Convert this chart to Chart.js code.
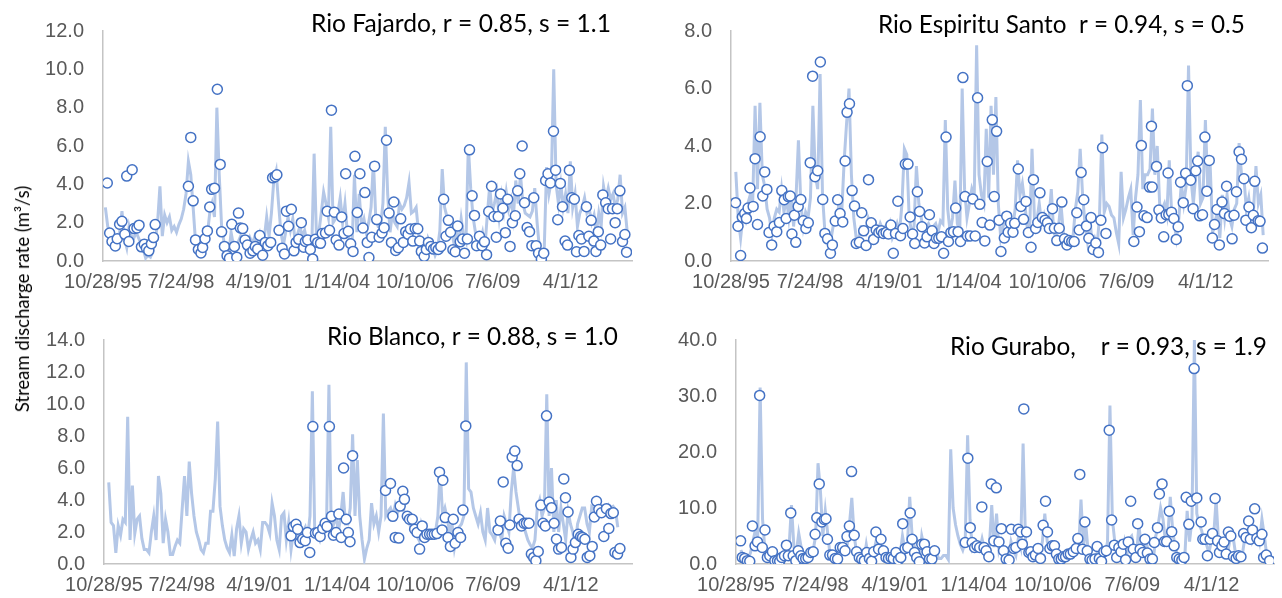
<!DOCTYPE html>
<html>
<head>
<meta charset="utf-8">
<title>Stream discharge</title>
<script src="https://cdn.jsdelivr.net/npm/chart.js@4.4.1/dist/chart.umd.min.js"></script>
<style>
  html, body { margin: 0; padding: 0; background: #fff; }
  #wrap { position: relative; width: 1282px; height: 598px; overflow: hidden; }
  canvas { position: absolute; }
  #yTitle {
    position: absolute; left: 22px; top: 299px;
    transform: translate(-50%, -50%) rotate(-90deg);
    white-space: nowrap; font: 18.5px Lato, sans-serif; color: #000;
  }
</style>
</head>
<body>
<div id="wrap">
  <canvas id="c1" width="641" height="300" style="left:0;top:0"></canvas>
  <canvas id="c2" width="641" height="300" style="left:641px;top:0"></canvas>
  <canvas id="c3" width="641" height="298" style="left:0;top:300px"></canvas>
  <canvas id="c4" width="641" height="298" style="left:641px;top:300px"></canvas>
  <div id="yTitle">Stream discharge rate (m³/s)</div>
</div>
<script>
// x axis: months since 10/28/95, labelled every 1000 days like the Excel date axis
const tickDays = [0, 1000, 2000, 3000, 4000, 5000, 6000];
const tickLabels = ['10/28/95', '7/24/98', '4/19/01', '1/14/04', '10/10/06', '7/6/09', '4/1/12'];
const DAYS_PER_MONTH = 30.4375;
const monthSpan = 223;

// monthly modelled discharge (line), index = month
const fajardoModel = [null,2.8,1.8,1.5,1.3,1.1,1.2,1.5,2.6,1.2,
  0.7,1.8,1.3,1.2,1.5,1.2,0.9,0.6,0.15,0.3,
  0.2,0.5,1.0,2.0,3.9,1.3,2.4,2.0,2.3,1.6,
  1.8,1.5,1.9,2.2,2.7,3.5,5.2,4.5,2.8,1.0,
  0.4,0.5,0.4,1.0,1.4,2.5,3.0,2.3,8.0,4.5,
  1.8,1.0,0.5,0.3,1.5,0.8,0.4,1.0,1.3,1.0,
  0.9,0.6,1.2,0.9,1.3,1.0,1.4,0.6,1.2,2.3,
  1.3,2.5,4.2,4.7,3.0,1.5,0.8,1.5,2.3,1.6,
  2.2,1.0,1.4,1.8,1.3,1.6,1.0,1.2,0.7,5.6,
  1.2,1.5,2.5,3.6,3.0,2.3,7.0,2.0,2.2,2.5,
  3.3,2.0,3.0,1.5,1.0,0.8,4.5,1.5,3.5,1.8,
  2.2,1.5,2.0,2.8,5.2,2.2,1.8,1.8,3.0,7.0,
  3.5,1.5,2.5,2.0,1.8,3.0,2.7,2.9,3.3,4.1,
  2.5,2.6,2.8,1.5,0.8,0.7,0.6,1.2,0.9,0.7,
  0.3,0.6,1.6,4.8,2.8,2.3,2.0,1.5,0.9,1.5,
  1.0,2.2,1.3,1.0,6.0,3.8,2.3,1.5,1.2,1.0,
  1.5,0.7,2.4,3.9,2.5,3.0,3.6,2.3,3.4,2.6,
  3.6,2.7,3.2,2.3,4.2,3.0,4.5,3.0,2.5,2.4,
  2.3,2.6,3.8,2.0,0.6,0.2,0.6,4.9,3.5,4.2,
  10.0,4.0,3.0,4.0,2.8,3.5,2.5,5.2,2.8,3.5,
  1.8,2.5,2.8,3.3,2.5,2.7,2.0,2.4,1.5,2.5,
  1.8,3.9,3.2,3.8,3.2,3.5,2.8,3.2,4.5,2.5,
  2.8,1.5];

// sampled discharge (circles): [month, value]
const fajardoObs = [[1.8,4.07],[2.8,1.46],[3.8,1.02],[5.2,0.78],[6,1.16],[7,1.92],[8,2.07],[9.2,1.39],[10,4.43],[10.9,1.02],
  [12.3,4.76],[13.1,1.69],[14.3,1.72],[15.2,1.87],[16.2,0.74],[17.4,0.88],[18.3,0.67],[19.3,0.53],[20.4,0.9],[21.3,1.22],[22,1.9],
  [36,3.9],[37,6.45],[38,3.14],[39,1.1],[40.2,0.6],[41.3,0.42],[42,0.71],[43,1.16],[44,1.57],[45,2.82],[45.8,3.74],[47,3.8],
  [48.2,8.96],[49.4,5.04],[50,1.52],[51.2,0.76],[52.3,0.28],[53.3,0.14],[54.3,1.92],[55.4,0.76],[56.4,0.2],[57.1,2.5],[57.9,1.72],
  [58.9,1.69],[59.9,1.1],[60.9,0.83],[62,0.41],[63.2,0.53],[64.2,0.76],[65.2,0.62],[66.1,1.33],[67.3,0.3],[68.4,0.97],[69.5,0.8],
  [70.7,0.97],[71.5,4.34],[72.6,4.4],[73.3,4.5],[74.2,1.6],[75.5,0.67],[76.5,0.37],[77.3,2.6],[78.2,1.81],[79.4,2.7],[80.5,0.53],
  [81.4,0.97],[82.5,1.13],[83.6,2.0],[84.6,0.72],[85.3,1.02],[86.3,1.1],[87.4,0.6],[88.4,0.11],[89.5,1.13],[90.5,0.97],[91.7,0.92],
  [92.4,1.43],[93.8,1.46],[94.5,2.6],[95.5,1.6],[96.3,7.87],[97.5,2.55],[98.3,1.1],[99.5,0.83],[100.6,2.3],[101.6,1.43],[102.3,4.55],
  [103.4,1.55],[104.4,0.9],[105.4,0.5],[106.2,5.46],[107.2,2.53],[108.3,4.55],[109.6,1.72],[110.4,3.57],[111.4,0.97],[112.1,0.18],
  [113.3,1.24],[114.5,4.95],[115.4,2.16],[116.4,1.24],[117.6,1.46],[118.5,1.74],[119.5,6.3],[120.6,2.5],[121.6,0.97],[122.6,3.08],
  [123.4,0.55],[124.5,0.69],[125.5,2.2],[126.6,0.97],[127.6,1.53],[128.6,1.4],[129.6,1.67],[130.6,1.04],[131.6,1.7],[132.7,1.68],
  [133.5,1.04],[134.2,0.5],[135.4,0.25],[136.3,0.6],[137.2,0.97],[138.2,0.76],[139.3,0.62],[140.3,0.7],[141.3,0.6],[142.4,0.76],
  [143.6,3.22],[144.6,1.29],[145.6,2.12],[146.5,1.5],[147.5,0.59],[148.5,0.48],[149.5,1.82],[150.6,1.0],[151.6,1.15],[152.4,0.41],
  [153.6,1.15],[154.5,5.8],[155.6,3.4],[156.6,2.38],[157.5,0.8],[158.7,1.29],[159.8,0.8],[160.8,1.0],[161.7,0.33],[162.6,2.58],
  [163.8,3.9],[164.8,2.32],[165.8,1.24],[166.6,2.32],[167.6,3.5],[168.6,2.75],[169.6,1.48],[170.6,3.22],[171.6,0.76],[172.6,2.0],
  [173.8,2.36],[174.8,3.66],[175.7,4.55],[176.7,6.0],[177.7,3.04],[178.8,1.75],[179.8,1.53],[180.8,0.8],[181.6,3.3],[182.6,0.8],
  [183.6,0.41],[184.8,0.1],[185.8,0.41],[186.6,4.2],[187.6,4.55],[188.6,4.07],[189.9,6.77],[190.8,4.74],[191.7,2.15],[192.8,4.05],
  [193.7,2.83],[194.8,1.04],[195.8,0.83],[196.6,4.74],[197.6,3.3],[198.7,3.22],[199.6,0.48],[200.6,1.33],[201.7,1.15],[202.8,0.5],
  [203.8,2.83],[204.8,1.29],[205.8,2.12],[206.9,1.04],[207.8,0.5],[208.8,1.53],[209.8,0.83],[210.7,3.45],[211.9,3.04],[213,2.73],
  [214,1.15],[214.8,2.73],[215.9,2.0],[216.8,2.73],[217.9,3.66],[219,1.02],[220,1.38],[220.7,0.46]];

const espirituModel = [null,null,3.1,1.5,0.8,1.6,1.4,2.0,2.3,2.0,
  5.4,2.5,5.5,3.0,2.6,1.8,1.5,0.9,1.5,1.8,
  1.7,2.5,1.7,2.2,1.5,2.3,1.2,2.2,4.2,2.0,
  1.2,1.7,1.5,2.2,5.4,3.0,2.5,6.5,2.3,1.0,
  0.7,0.5,1.0,1.5,1.5,2.1,1.7,3.5,4.8,6.0,
  3.0,1.5,0.8,0.8,1.2,1.2,1.0,1.5,1.3,1.1,
  1.3,1.0,1.3,1.1,1.2,1.0,1.3,0.8,1.0,1.3,
  1.0,2.0,3.9,3.7,1.5,1.0,1.2,3.3,2.0,1.5,
  1.0,1.2,1.3,1.1,1.2,1.3,1.0,1.4,1.3,4.9,
  1.8,1.0,1.5,2.8,1.3,1.0,6.0,2.5,1.5,2.0,
  2.5,2.2,7.5,3.0,2.3,2.0,4.6,2.2,5.4,3.0,
  5.7,2.0,0.8,1.2,1.5,1.3,1.5,1.2,1.8,3.5,
  2.3,2.7,2.0,1.2,1.0,3.9,1.5,1.4,2.0,1.3,
  1.6,1.2,1.4,2.5,1.0,0.8,1.2,2.0,1.0,0.7,
  0.8,0.7,0.8,1.8,2.4,3.9,2.3,1.3,0.7,1.5,
  0.6,0.8,0.5,1.5,4.4,1.7,2.0,1.9,1.6,1.5,
  1.0,0.6,3.1,1.5,1.8,2.2,2.5,0.9,2.2,3.0,
  5.6,2.5,3.0,3.0,3.2,5.3,3.0,4.0,2.0,1.8,
  2.0,1.6,3.5,1.6,1.3,0.8,1.5,2.7,2.0,2.6,
  6.8,2.9,2.0,3.0,3.8,2.0,2.2,4.9,2.5,3.3,
  1.0,1.3,1.8,0.8,2.3,1.5,2.3,1.5,1.2,1.8,
  2.0,4.1,3.0,2.9,1.8,2.2,1.5,1.8,3.3,2.0,
  2.3,0.9];

const espirituObs = [[1.9,2.03],[2.9,1.21],[4,0.19],[4.7,1.53],[5.7,1.65],[6.4,1.48],[7.1,1.84],[7.9,2.54],[9.2,1.9],[10,3.56],
  [11,1.27],[12.1,4.32],[13.2,2.26],[14,3.1],[14.9,2.49],[15.8,0.99],[16.9,0.56],[17.9,1.21],[19,1.02],[20.1,1.34],[21.1,2.45],
  [22.1,2.13],[22.9,1.48],[23.8,2.24],[24.6,2.26],[25.3,0.94],[26.3,1.59],[26.9,0.65],[27.9,1.9],[29,2.14],[30,1.4],[31.1,1.13],
  [32.1,1.33],[32.9,3.42],[33.9,6.43],[34.9,2.93],[36,3.14],[37.1,6.92],[38.1,2.14],[39,0.96],[40.1,0.77],[41.3,0.27],[42.1,0.56],
  [43.3,1.39],[44.3,2.13],[45.3,1.65],[46.4,1.36],[47.4,3.48],[48.2,5.17],[49.2,5.47],[50.3,2.45],[51.3,1.91],[52,0.61],[53.3,0.65],
  [54.3,1.68],[55.1,1.05],[56.1,0.54],[57.1,2.83],[58.2,1.33],[59.2,0.75],[60.3,1.08],[61.4,0.99],[62.4,1.05],[63.3,0.96],[64.4,0.99],
  [65.4,0.94],[66.4,1.25],[67.4,0.27],[68.3,0.96],[69.3,2.08],[70.4,0.88],[71.4,1.13],[72.4,3.37],[73.5,3.37],[74.4,1.53],[75.4,0.94],
  [76.3,0.61],[77.4,2.41],[78.3,1.72],[79.3,1.19],[80.4,0.63],[81.4,0.84],[82.4,1.61],[83.5,1.05],[84.3,0.61],[85.3,0.79],[86.3,0.79],
  [87.4,0.84],[88.3,0.27],[89.3,4.31],[90.3,0.68],[91.3,0.99],[92.4,1.02],[93.3,1.84],[94.3,1.02],[95.3,0.68],[96.3,6.38],[97.2,2.24],
  [98.2,0.87],[99.4,0.87],[100.4,2.16],[101.4,0.87],[102.4,5.68],[103.3,1.97],[104.3,1.34],[105.4,0.7],[106.4,3.46],[107.5,1.25],
  [108.5,4.91],[109.3,2.24],[110.3,4.51],[111.3,1.42],[112.1,0.33],[113.5,0.8],[114.5,1.56],[115.1,1.0],[116.1,1.31],[117.1,1.0],
  [117.8,1.31],[119.3,3.2],[120.4,1.9],[121.5,1.45],[122.5,2.07],[123.5,0.99],[124.6,0.48],[125.6,2.83],[126.5,1.13],[127.4,1.34],
  [128.3,2.37],[129.3,1.51],[130.4,1.42],[131.4,1.33],[132.2,1.13],[133.5,1.82],[134.3,1.14],[135.3,0.71],[136.3,1.14],[137.4,2.05],
  [138.5,0.77],[139.5,0.56],[140.4,0.71],[141.5,0.68],[142.5,0.68],[143.6,1.68],[144.6,1.08],[145.4,3.08],[146.5,2.13],[147.6,1.22],
  [148.6,0.79],[149.5,1.51],[150.4,0.4],[151.5,0.63],[152.6,0.3],[153.6,1.42],[154.3,3.94],[155.7,0.96],
  [167.3,0.68],[168.6,1.88],[169.6,1.02],[170.4,4.02],[171.5,1.57],[172.8,1.51],[173.8,2.57],[174.6,4.69],[174.9,2.57],[176.7,3.29],
  [177.7,1.77],[178.7,1.5],[179.7,0.84],[180.7,1.61],[181.5,3.06],[181.8,1.62],[182.9,1.7],[183.9,1.48],[184.9,0.75],[185.7,1.19],
  [186.7,2.74],[187.8,2.03],[188.8,3.05],[189.5,6.1],[190.9,2.81],[191.9,1.82],[193,3.14],[193.8,3.48],[194.6,1.57],[195.8,1.61],
  [196.8,4.31],[197.6,2.43],[198.6,3.5],[199.9,0.8],[200.8,1.27],[201.8,1.79],[202.8,0.56],[203.9,2.05],[204.9,1.65],[205.8,2.6],
  [207,1.56],[208.1,0.77],[208.9,1.59],[209.9,2.41],[211,3.8],[212,3.54],[213,2.86],[213.8,1.42],[215.1,1.88],[216.1,1.16],
  [216.9,1.59],[217.5,2.77],[218.9,1.4],[219.7,1.38],[220.7,0.45]];

const blancoModel = [null,null,5.1,2.6,2.4,0.7,2.4,1.8,2.8,2.6,
  9.2,1.5,4.9,1.9,2.8,3.0,1.6,0.9,0.9,0.7,
  2.0,3.0,1.5,5.5,4.4,1.3,2.8,2.0,0.6,0.6,
  1.1,1.5,1.3,3.4,5.5,3.0,6.4,4.4,3.0,2.0,
  1.5,0.9,0.7,1.3,1.3,3.3,3.3,5.3,8.9,3.6,
  2.4,1.5,1.0,0.7,1.8,0.5,2.2,3.0,1.3,2.2,
  2.0,0.9,1.5,2.0,1.3,1.5,0.9,2.6,2.6,2.4,
  1.9,3.8,3.0,1.5,0.9,3.0,3.2,1.5,2.6,0.9,
  2.0,2.2,1.5,1.8,2.0,2.3,1.6,3.0,10.8,2.0,
  1.8,1.5,2.5,2.3,2.6,11.2,2.0,2.5,3.0,2.0,
  3.0,4.5,2.5,2.5,3.5,8.1,3.0,6.5,3.0,1.5,
  0.3,1.0,1.5,3.8,2.5,3.0,2.0,3.0,9.4,3.0,
  3.3,3.5,3.0,3.7,3.2,3.5,4.0,3.0,2.8,2.5,
  2.2,2.0,1.8,1.5,2.5,2.0,1.8,2.0,1.8,1.9,
  2.0,3.0,5.9,3.0,3.5,2.8,2.0,2.5,1.0,1.8,
  2.3,2.5,3.0,12.6,4.7,4.5,3.5,3.0,2.5,3.2,
  2.0,1.5,3.5,2.0,1.8,1.5,2.5,2.0,1.5,3.0,
  2.5,2.0,4.5,6.0,4.5,3.5,2.5,2.5,2.0,1.5,
  1.2,1.0,1.5,3.5,4.0,3.0,3.5,10.6,3.0,6.0,
  2.0,4.0,2.0,3.5,2.5,1.5,3.3,2.5,2.0,1.0,
  2.5,3.0,3.5,3.5,2.5,2.0,3.6,3.5,3.8,4.0,
  3.5,3.6,3.5,3.7,3.5,3.6,3.4,2.3];

const blancoObs = [[79,1.76],[80,2.34],[81.1,2.48],[81.8,2.17],[82.8,1.34],[83.9,1.55],[85,1.45],[85.9,1.97],[86.9,0.72],[88.2,8.59],
  [89.3,1.93],[90.3,1.97],[91.3,1.72],[92.4,2.22],[93.4,2.55],[94.2,2.34],[95.2,8.59],[96.1,2.98],[96.9,1.8],[98,1.97],
  [99.2,3.12],[100.2,1.66],[101.2,6.0],[102.3,2.8],[103.2,1.97],[103.9,1.39],[105,6.77],
  [118.9,4.6],[121,5.03],[122,2.98],[123,1.66],[124.5,1.62],[125.1,3.62],[126.2,4.55],[126.9,4.04],[128.1,2.98],[129,2.8],
  [130.2,2.8],[131.2,2.17],[132.2,1.97],[133.3,0.93],[134.4,2.38],[135.4,1.66],[136.4,1.86],[137.5,1.86],[138.5,1.86],[139.5,1.86],
  [140.6,1.9],[141.7,5.74],[142.8,2.13],[143.1,5.24],[144.1,2.9],[145.3,1.66],[146.3,1.1],[147.5,2.8],[148.3,1.3],[149.5,1.97],
  [150.6,1.66],[151.6,3.37],[152.8,8.63],
  [166.4,2.13],[167.4,2.69],[168.6,5.13],[169.7,1.3],[170.7,0.99],[171.4,2.44],[172.4,6.68],[173.5,7.06],[174.5,6.15],[175.3,2.8],
  [176.3,2.38],[177.4,2.55],[178.4,2.55],[179.5,2.55],[180.5,0.62],[181.5,0.41],[182.4,0.2],[183.4,0.78],[184.5,3.68],[185.4,2.55],
  [186.4,2.38],[186.9,9.26],[188,3.87],[189,3.52],[190.1,2.55],[191.1,1.55],[192,0.93],[193.2,1.03],[194.2,5.32],[194.9,4.14],
  [196,3.25],[197.2,0.41],[198.1,0.93],[199.1,1.34],[200.3,1.86],[201.3,1.72],[202.1,1.66],[203.1,1.55],[204.1,0.41],[205.2,0.52],
  [206.2,1.1],[207.1,2.94],[208,3.92],[209,3.4],[210.1,3.2],[211.1,1.72],[212.2,3.46],[213.2,2.22],[214.1,3.15],[215.1,3.2],
  [215.8,0.72],[216.9,0.62],[217.9,0.97]];

const guraboModel = [null,null,2.5,1.5,1.0,1.0,2.0,4.0,6.0,5.0,
  31.5,8.0,2.5,1.5,2.0,1.0,0.8,0.5,1.0,1.5,
  2.0,1.5,3.0,10.5,3.0,2.0,5.5,3.0,1.5,1.0,
  1.5,2.0,2.5,5.0,18.0,13.0,5.0,9.5,5.5,1.5,
  1.5,1.0,1.0,3.0,3.5,3.0,3.0,7.0,11.8,5.0,
  2.0,1.0,0.8,0.6,3.5,1.0,0.5,2.0,4.0,2.5,
  3.0,2.0,1.0,1.0,1.2,1.0,1.5,0.8,1.5,5.0,
  2.5,3.0,12.0,5.0,3.0,1.5,0.5,5.0,3.0,2.0,
  1.0,0.8,1.5,2.0,1.0,1.0,1.5,1.5,0.8,20.5,
  10.0,7.0,5.0,3.5,2.5,4.0,23.0,8.0,2.5,3.0,
  2.5,2.5,4.5,2.5,2.0,3.0,10.5,3.0,9.0,2.5,
  4.0,2.0,1.0,1.0,4.0,2.5,1.5,4.5,3.0,21.5,
  4.0,2.0,1.5,1.5,1.8,2.5,2.0,4.0,9.0,4.0,
  2.5,2.5,2.0,1.0,0.8,0.7,1.0,1.2,1.5,1.5,
  2.0,2.0,2.5,11.5,3.0,7.0,2.0,0.8,0.8,1.0,
  2.5,1.0,0.8,1.5,4.0,28.3,8.0,4.0,2.0,3.5,
  2.0,4.0,1.5,4.5,5.0,3.0,1.5,7.0,3.0,2.0,
  4.0,2.0,0.8,0.8,5.0,7.0,10.0,8.0,4.0,5.0,
  12.0,6.0,3.0,1.5,0.8,0.5,1.0,9.5,4.0,8.0,
  40.0,9.0,7.0,6.0,4.0,3.5,2.0,4.0,5.0,11.5,
  4.0,2.5,3.5,4.0,2.5,5.0,5.0,2.0,1.5,2.0,
  2.0,5.0,4.5,7.0,4.0,5.0,6.0,4.0,8.0,5.0,
  1.5,1.0];

const guraboObs = [[1.9,4.13],[2.6,1.18],[3.6,1.0],[4.7,0.6],[5.7,0.5],[6.8,6.79],[7.9,3.24],[8.9,3.95],[9.8,30.1],[10.9,2.95],
  [12,6.08],[13,1.18],[14,1.47],[15.1,2.18],[16.1,0.6],[17.2,0.6],[18.1,0.5],[19,1.18],[20.1,1.47],[20.9,3.36],[21.7,1.47],
  [22.7,9.12],[23.7,1.47],[24.8,0.6],[25.8,2.36],[26.9,1.47],[27.8,1.0],[28.9,1.0],[29.9,1.18],[31,2.06],[32,2.18],[32.8,5.31],
  [33.5,8.26],[34.5,14.3],[35.6,7.49],[36.6,7.96],[37.3,8.08],[37.9,4.42],[38.9,1.59],[40,1.59],[41.1,1.0],[42.1,0.88],[43.2,2.95],
  [44.2,2.95],[45.2,2.36],[46,4.9],[47,6.79],[47.9,16.5],[49,5.13],[50,2.18],[51.1,1.18],[52.1,0.88],[53.2,0.6],[54.2,2.06],
  [55.3,1.0],[56.2,0.5],[57.1,2.18],[58,5.72],[59.1,2.65],[60.1,4.42],[61.1,2.36],[62.2,1.18],[63.2,1.0],[64.3,1.18],[65.2,1.0],
  [66.3,2.06],[67.3,0.71],[68.3,1.18],[69.1,7.2],[70.1,2.77],[71.2,2.95],[72.2,9.12],[73,4.42],[74,2.06],[74.9,1.18],[76,0.41],
  [77,3.54],[78.1,3.54],[79.2,2.18],[80.2,0.88],[81.2,0.88],[82.3,2.36],
  [95,3.83],[96.1,18.9],[97.1,6.49],[97.9,3.83],[98.9,2.95],[99.9,3.24],[101,2.95],[101.9,10.2],[102.8,2.95],[103.7,2.36],
  [104.8,1.3],[105.8,14.3],[106.9,4.13],[107.9,13.6],[109,3.95],[110,6.31],[110.9,2.36],[112,0.88],[113.2,0.71],[114.1,6.2],
  [115.1,2.77],[116,2.95],[117,6.2],[118,5.72],[118.7,3.54],[119.3,27.7],[120.4,5.72],[121.4,2.06],[122.2,2.18],[123.1,1.3],
  [124.1,1.59],[125.2,2.77],[126.2,1.0],[127.3,6.9],[128.3,11.2],[129.1,5.72],[130.1,2.77],[131.1,3.24],[132,3.24],[132.8,1.77],
  [133.8,0.88],[134.8,0.88],[135.6,1.3],[136.6,1.3],[137.7,1.77],[138.6,1.77],[139.8,2.18],[141,2.77],[141.7,4.54],[142.5,16.0],
  [143.6,2.65],[144.6,7.49],[145.6,2.36],[146.7,0.88],[147.6,0.71],[148.8,0.88],[149.7,3.12],[150.6,1.0],[151.5,0.5],[152.5,2.18],
  [153.5,2.36],[154.7,23.9],[155.7,7.85],[156.8,3.36],[157.8,1.18],[158.7,2.95],[159.6,2.18],[160.5,3.54],[161.5,0.77],[162.6,3.95],
  [163.6,11.2],[164.7,2.65],[165.7,1.18],[166.5,7.2],[167.5,2.65],[168.6,2.06],[169.5,4.42],[170.5,1.95],[171.6,0.88],[172.6,0.88],
  [173.4,3.83],[174.7,6.49],[175.5,12.5],[176.6,14.3],[177.6,4.01],[178.5,4.01],[179.6,9.44],[180.6,5.78],[181.6,3.24],[182.7,1.18],
  [183.7,0.88],[184.8,0.71],[185.7,1.18],[186.6,11.9],[187.7,7.08],[188.7,11.2],[189.9,34.9],[191,11.8],[192.8,7.49],[193.5,4.42],
  [194.4,4.42],[195.4,1.47],[196.5,4.42],[197.5,5.43],[198.6,11.7],[199.6,4.13],[200.4,2.06],[201.4,3.24],[202.3,3.95],[203.2,1.77],
  [204.1,5.72],[205.1,5.01],[206.2,1.3],[207.3,1.0],[208.3,1.47],[209.3,1.3],[210.4,5.43],[211.4,4.72],[212.5,7.67],[213.2,4.42],
  [214.1,6.08],[215,9.85],[215.9,4.6],[216.9,4.13],[218,5.31],[218.7,1.18],[219.8,1.59],[221.2,0.6]];

const panelTitles = [
  'Rio Fajardo, r = 0.85, s = 1.1',
  'Rio Espiritu Santo  r = 0.94, s = 0.5',
  'Rio Blanco, r = 0.88, s = 1.0',
  'Rio Gurabo,    r = 0.93, s = 1.9'
];

// title drawn inside the plot, stretched to the box it takes in the original
const panelTitle = {
  id: 'panelTitle',
  afterDraw(chart, args, opts) {
    const ctx = chart.ctx;
    ctx.save();
    ctx.font = '100px Lato';
    const w = ctx.measureText(opts.text).width;
    const size = 100 * (opts.right - opts.left) / w;
    ctx.font = size.toFixed(2) + 'px Lato';
    ctx.fillStyle = '#000';
    ctx.textAlign = 'left';
    ctx.textBaseline = 'middle';
    ctx.fillText(opts.text, opts.left, opts.y);
    ctx.restore();
  }
};

const tickFont = { family: 'Liberation Sans', size: 20 };
const axisBorder = { display: true, color: '#c4c4c4', width: 1.5 };

function makePanel(p) {
  const lineData = [];
  p.model.forEach((v, i) => { if (v !== null) lineData.push({ x: i, y: v }); });
  const obsData = p.obs.map(([m, v]) => ({ x: m, y: v }));

  return new Chart(document.getElementById(p.id), {
    type: 'line',
    data: {
      datasets: [
        {
          type: 'scatter',
          data: obsData,
          order: 1,
          pointRadius: 5,
          pointBorderWidth: 1.5,
          pointBorderColor: '#4472c4',
          pointBackgroundColor: '#ffffff'
        },
        {
          type: 'line',
          data: lineData,
          order: 2,
          borderColor: '#b4c7e7',
          borderWidth: 3,
          pointRadius: 0,
          tension: 0,
          fill: false
        }
      ]
    },
    options: {
      responsive: false,
      animation: false,
      devicePixelRatio: 1,
      layout: { padding: { top: p.padTop, right: p.padRight, left: 0, bottom: 0 } },
      plugins: {
        legend: { display: false },
        tooltip: { enabled: false },
        panelTitle: p.title
      },
      scales: {
        x: {
          type: 'linear',
          min: 0,
          max: monthSpan,
          grid: { display: false, drawTicks: false },
          border: axisBorder,
          afterBuildTicks: s => { s.ticks = tickDays.map(d => ({ value: d / DAYS_PER_MONTH })); },
          afterFit: s => { s.height = p.xHeight; },
          ticks: {
            autoSkip: false, maxRotation: 0, minRotation: 0, padding: 9,
            color: '#595959', font: tickFont,
            callback: (v, i) => tickLabels[i]
          }
        },
        y: {
          min: 0,
          max: p.yMax,
          grid: { display: false, drawTicks: false },
          border: axisBorder,
          afterFit: s => { s.width = p.yWidth; },
          ticks: {
            stepSize: p.yStep, padding: 19,
            color: '#595959', font: tickFont,
            callback: v => v.toFixed(1)
          }
        }
      }
    },
    plugins: [panelTitle]
  });
}

[
  { id: 'c1', model: fajardoModel, obs: fajardoObs, yMax: 12, yStep: 2,
    padTop: 22, padRight: 9, xHeight: 39, yWidth: 103,
    title: { text: panelTitles[0], left: 311, right: 611, y: 24 } },
  { id: 'c2', model: espirituModel, obs: espirituObs, yMax: 8, yStep: 2,
    padTop: 22, padRight: 14, xHeight: 39, yWidth: 90,
    title: { text: panelTitles[1], left: 237, right: 604, y: 25 } },
  { id: 'c3', model: blancoModel, obs: blancoObs, yMax: 14, yStep: 2,
    padTop: 40, padRight: 9, xHeight: 34, yWidth: 104,
    title: { text: panelTitles[2], left: 327, right: 618, y: 37 } },
  { id: 'c4', model: guraboModel, obs: guraboObs, yMax: 40, yStep: 10,
    padTop: 40, padRight: 8, xHeight: 34, yWidth: 95,
    title: { text: panelTitles[3], left: 309, right: 626, y: 47 } }
].forEach(makePanel);
</script>
</body>
</html>
